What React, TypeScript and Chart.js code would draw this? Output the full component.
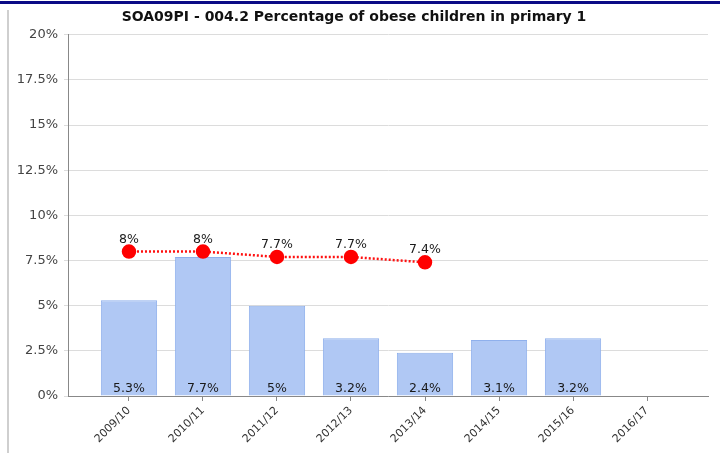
import React, { useEffect, useRef } from "react";
import { Chart, registerables } from "chart.js";

Chart.register(...registerables);

const TITLE = "SOA09PI - 004.2 Percentage of obese children in primary 1";
const categories = ["2009/10", "2010/11", "2011/12", "2012/13", "2013/14", "2014/15", "2015/16", "2016/17"];
const barValues: (number | null)[] = [5.3, 7.7, 5, 3.2, 2.4, 3.1, 3.2, null];
const lineValues: (number | null)[] = [8, 8, 7.7, 7.7, 7.4, null, null, null];
const yTicks = [0, 2.5, 5, 7.5, 10, 12.5, 15, 17.5, 20];

const FONT = "'DejaVu Sans', Verdana, sans-serif";

const valueLabels = {
  id: "valueLabels",
  afterDatasetsDraw(chart: any) {
    const ctx = chart.ctx;
    ctx.save();
    ctx.font = `12.5px ${FONT}`;
    ctx.fillStyle = "#1a1a1a";
    ctx.textAlign = "center";
    ctx.textBaseline = "alphabetic";
    const yScale = chart.scales.y;
    chart.data.datasets.forEach((ds: any, di: number) => {
      const meta = chart.getDatasetMeta(di);
      meta.data.forEach((el: any, i: number) => {
        const v = ds.data[i]?.y;
        if (v === null || v === undefined) return;
        const txt = `${v}%`;
        if (ds.type === "line") {
          ctx.fillText(txt, el.x, el.y - 9);
        } else {
          ctx.fillText(txt, el.x, yScale.getPixelForValue(0) - 4);
        }
      });
    });
    ctx.restore();
  },
};

export default function App() {
  const ref = useRef<HTMLCanvasElement | null>(null);
  useEffect(() => {
    if (!ref.current) return;
    const chart = new Chart(ref.current, {
      type: "bar",
      data: {
        datasets: [
          {
            type: "line",
            label: "line",
            data: lineValues.map((v, i) => ({ x: i, y: v })) as any,
            borderColor: "#ff1010",
            borderWidth: 2.5,
            borderDash: [2, 2],
            pointRadius: 6,
            pointBackgroundColor: "#ff0000",
            pointBorderColor: "#ff0000",
            fill: false,
            spanGaps: false,
            order: 0,
          } as any,
          {
            type: "bar",
            label: "bar",
            data: barValues.map((v, i) => ({ x: i, y: v })) as any,
            backgroundColor: "#b0c8f4",
            borderColor: "#8fb0ec",
            borderWidth: 1,
            barPercentage: 1,
            categoryPercentage: 0.76,
            order: 1,
          } as any,
        ],
      },
      options: {
        animation: false,
        responsive: false,
        maintainAspectRatio: false,
        layout: { padding: { left: 0, right: 12, top: 0, bottom: 0 } },
        plugins: {
          legend: { display: false },
          tooltip: { enabled: false },
          title: {
            display: true,
            text: TITLE,
            color: "#111",
            font: { family: FONT, size: 14, weight: "bold" },
            padding: { top: 9, bottom: 9 },
          },
        },
        scales: {
          x: {
            type: "linear",
            min: -0.824,
            max: 7.824,
            offset: false,
            afterBuildTicks: (scale: any) => {
              scale.ticks = categories.map((_, i) => ({ value: i }));
            },
            afterFit: (scale: any) => {
              scale.height = 57;
            },
            ticks: {
              autoSkip: false,
              maxRotation: 45,
              minRotation: 45,
              color: "#333",
              font: { family: FONT, size: 11 },
              callback: (v: any) => categories[v] ?? "",
            },
            grid: { offset: false, drawOnChartArea: false, drawTicks: true, tickLength: 5, color: "#888" },
            border: { color: "#888", width: 1 },
          },
          y: {
            min: 0,
            max: 20,
            afterBuildTicks: (scale: any) => {
              scale.ticks = yTicks.map((v) => ({ value: v }));
            },
            afterFit: (scale: any) => {
              scale.width = 68;
            },
            ticks: {
              color: "#444",
              font: { family: FONT, size: 13 },
              padding: 6,
              callback: (v: any) => `${v}%`,
            },
            grid: { color: "#dcdcdc", tickLength: 4 },
            border: { color: "#888", width: 1 },
          },
        },
      },
      plugins: [valueLabels],
    } as any);
    return () => chart.destroy();
  }, []);
  return (
    <div style={{ position: "fixed", left: 0, top: 0, width: 720, height: 453, background: "#fff" }}>
      <canvas ref={ref} width={720} height={453} style={{ position: "absolute", left: 0, top: 0 }} />
      <div style={{ position: "absolute", left: 0, top: 1, width: 720, height: 3, background: "#0b0b86" }} />
      <div style={{ position: "absolute", left: 7, top: 10, width: 2, height: 443, background: "#cfcfcf" }} />
    </div>
  );
}
